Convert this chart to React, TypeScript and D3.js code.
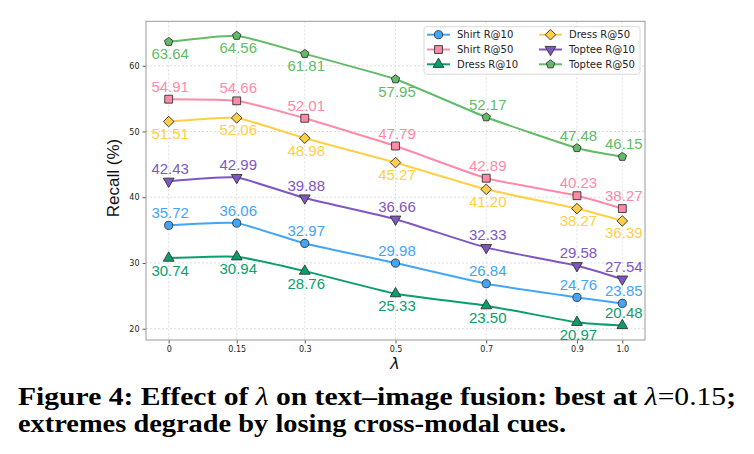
import React, { useRef, useLayoutEffect } from 'react';
import * as d3 from 'd3';

// lambda values on the x axis and their printed tick labels
const lambdas = [0, 0.15, 0.3, 0.5, 0.7, 0.9, 1.0];
const lambdaTicks = ['0', '0.15', '0.3', '0.5', '0.7', '0.9', '1.0'];
const recallTicks = [20, 30, 40, 50, 60];

// recall values per series
const shirtR10 = [35.72, 36.06, 32.97, 29.98, 26.84, 24.76, 23.85];
const shirtR50 = [54.91, 54.66, 52.01, 47.79, 42.89, 40.23, 38.27];
const dressR10 = [30.74, 30.94, 28.76, 25.33, 23.5, 20.97, 20.48];
const dressR50 = [51.51, 52.06, 48.98, 45.27, 41.2, 38.27, 36.39];
const topteeR10 = [42.43, 42.99, 39.88, 36.66, 32.33, 29.58, 27.54];
const topteeR50 = [63.64, 64.56, 61.81, 57.95, 52.17, 47.48, 46.15];

const seriesNames = ['Shirt R@10', 'Shirt R@50', 'Dress R@10', 'Dress R@50', 'Toptee R@10', 'Toptee R@50'];
const seriesValues = [shirtR10, shirtR50, dressR10, dressR50, topteeR10, topteeR50];
const seriesColors = ['#42a5f5', '#ff8aa8', '#0a9e6c', '#ffd045', '#7e57c2', '#62bb67'];
const seriesMarkers = ['circle', 'square', 'triangle', 'diamond', 'triangleDown', 'pentagon'];
// which side of the point each value label sits on (1 = above, -1 = below)
const labelSides = [
  [1, 1, 1, 1, 1, 1, 1],
  [1, 1, 1, 1, 1, 1, 1],
  [-1, -1, -1, -1, -1, -1, 1],
  [-1, -1, -1, -1, -1, -1, -1],
  [1, 1, 1, 1, 1, 1, 1],
  [-1, -1, -1, -1, 1, 1, 1],
];

const markerPath = (kind: string) => {
  if (kind === 'circle') return d3.symbol(d3.symbolCircle, 52)();
  if (kind === 'square') return d3.symbol(d3.symbolSquare, 62)();
  if (kind === 'triangle') return d3.symbol(d3.symbolTriangle, 50)();
  if (kind === 'triangleDown') return d3.symbol(d3.symbolTriangle, 50)();
  if (kind === 'diamond') return d3.symbol(d3.symbolSquare, 56)();
  // pentagon
  const r = 4.4;
  const pts = d3.range(5).map((k) => {
    const a = -Math.PI / 2 + (k * 2 * Math.PI) / 5;
    return [r * Math.cos(a), r * Math.sin(a)];
  });
  return 'M' + pts.map((p) => p.join(',')).join('L') + 'Z';
};

const markerRotate = (kind: string) =>
  kind === 'diamond' ? 45 : kind === 'triangleDown' ? 180 : 0;

const App = () => {
  const ref = useRef(null);
  const width = 754;
  const height = 454;

  useLayoutEffect(() => {
    const svg = d3.select(ref.current);
    svg.selectAll('*').remove();

    const plot = { left: 146, right: 645, top: 21.3, bottom: 340 };
    const x = d3.scaleLinear().domain([-0.05, 1.05]).range([plot.left, plot.right]);
    const y = d3.scaleLinear().domain([18.28, 66.76]).range([plot.bottom, plot.top]);

    svg.append('rect').attr('width', width).attr('height', height).attr('fill', '#fff');

    // grid
    const grid = svg.append('g').attr('stroke', '#d6d6d6').attr('stroke-width', 0.8).attr('stroke-dasharray', '2,2');
    lambdas.forEach((v) => {
      grid.append('line').attr('x1', x(v)).attr('x2', x(v)).attr('y1', plot.top).attr('y2', plot.bottom);
    });
    recallTicks.forEach((v) => {
      grid.append('line').attr('x1', plot.left).attr('x2', plot.right).attr('y1', y(v)).attr('y2', y(v));
    });

    // axes
    const axisBottom = d3
      .axisBottom(x)
      .tickValues(lambdas)
      .tickFormat((_, i) => lambdaTicks[i])
      .tickSize(3.5)
      .tickPadding(3);
    const axisLeft = d3.axisLeft(y).tickValues(recallTicks).tickSize(3.5).tickPadding(3);

    const gx = svg.append('g').attr('transform', `translate(0, ${plot.bottom})`).call(axisBottom);
    const gy = svg.append('g').attr('transform', `translate(${plot.left}, 0)`).call(axisLeft);
    [gx, gy].forEach((g) => {
      g.select('.domain').remove();
      g.selectAll('line').attr('stroke', '#333').attr('stroke-width', 0.8);
      g.selectAll('text').attr('fill', '#222').style('font', '8px "DejaVu Sans"');
    });

    svg
      .append('rect')
      .attr('x', plot.left)
      .attr('y', plot.top)
      .attr('width', plot.right - plot.left)
      .attr('height', plot.bottom - plot.top)
      .attr('fill', 'none')
      .attr('stroke', '#9a9a9a')
      .attr('stroke-width', 1);

    // lines, markers and value labels (lightly smoothed)
    const line = d3
      .line<number>()
      .x((_, i) => x(lambdas[i]))
      .y((d) => y(d))
      .curve(d3.curveCardinal.tension(0.55));

    seriesValues.forEach((vals, s) => {
      const g = svg.append('g');
      g.append('path')
        .attr('d', line(vals))
        .attr('fill', 'none')
        .attr('stroke', seriesColors[s])
        .attr('stroke-width', 2);
      vals.forEach((v, i) => {
        g.append('path')
          .attr('d', markerPath(seriesMarkers[s]))
          .attr('transform', `translate(${x(lambdas[i])}, ${y(v)}) rotate(${markerRotate(seriesMarkers[s])})`)
          .attr('fill', seriesColors[s])
          .attr('stroke', '#333')
          .attr('stroke-width', 0.9);
        const side = labelSides[s][i];
        g.append('text')
          .text(v.toFixed(2))
          .attr('x', x(lambdas[i]) + 1.5)
          .attr('y', y(v) + (side > 0 ? -7.5 : 17.5))
          .attr('text-anchor', 'middle')
          .attr('fill', seriesColors[s])
          .style('font', '15px "Liberation Sans", Arial, sans-serif');
      });
    });

    // axis titles
    svg
      .append('text')
      .text('Recall (%)')
      .attr('transform', `translate(119, 178) rotate(-90)`)
      .attr('text-anchor', 'middle')
      .attr('fill', '#111')
      .style('font', '17px "Liberation Sans", Arial, sans-serif');
    svg
      .append('text')
      .text('λ')
      .attr('x', 395)
      .attr('y', 369)
      .attr('text-anchor', 'middle')
      .attr('fill', '#111')
      .style('font', 'italic 16px "DejaVu Sans"');

    // legend
    const legend = svg.append('g');
    legend
      .append('rect')
      .attr('x', 424)
      .attr('y', 26.7)
      .attr('width', 216)
      .attr('height', 47.5)
      .attr('rx', 2.5)
      .attr('fill', 'rgba(255,255,255,0.85)')
      .attr('stroke', '#d0d0d0')
      .attr('stroke-width', 0.8);
    const colX = [427, 539];
    const rowY = [34.7, 49.5, 64.3];
    seriesNames.forEach((name, s) => {
      const cx = colX[Math.floor(s / 3)];
      const cy = rowY[s % 3];
      legend
        .append('line')
        .attr('x1', cx)
        .attr('x2', cx + 23)
        .attr('y1', cy)
        .attr('y2', cy)
        .attr('stroke', seriesColors[s])
        .attr('stroke-width', 2);
      legend
        .append('path')
        .attr('d', markerPath(seriesMarkers[s]))
        .attr('transform', `translate(${cx + 11.5}, ${cy}) rotate(${markerRotate(seriesMarkers[s])})`)
        .attr('fill', seriesColors[s])
        .attr('stroke', '#333')
        .attr('stroke-width', 0.9);
      legend
        .append('text')
        .text(name)
        .attr('x', cx + 30)
        .attr('y', cy + 3.6)
        .attr('fill', '#222')
        .style('font', '10px "DejaVu Sans"');
    });

    // caption
    const capFont = '"Liberation Serif", serif';
    const cap1 = svg
      .append('text')
      .attr('x', 18)
      .attr('y', 405)
      .attr('textLength', 718)
      .attr('lengthAdjust', 'spacingAndGlyphs')
      .style('font-family', capFont)
      .style('font-size', '25px')
      .attr('fill', '#000');
    cap1.append('tspan').attr('font-weight', 'bold').text('Figure 4: Effect of ');
    cap1.append('tspan').attr('font-style', 'italic').text('λ');
    cap1.append('tspan').attr('font-weight', 'bold').text(' on text–image fusion: best at ');
    cap1.append('tspan').attr('font-style', 'italic').text('λ');
    cap1.append('tspan').text('=0.15');
    cap1.append('tspan').attr('font-weight', 'bold').text(';');

    svg
      .append('text')
      .attr('x', 18)
      .attr('y', 432)
      .attr('textLength', 548)
      .attr('lengthAdjust', 'spacingAndGlyphs')
      .style('font-family', capFont)
      .style('font-size', '25px')
      .attr('font-weight', 'bold')
      .attr('fill', '#000')
      .text('extremes degrade by losing cross-modal cues.');
  }, []);

  return (
    <div style={{ position: 'absolute', left: 0, top: 0, width, height }}>
      <svg ref={ref} width={width} height={height} />
    </div>
  );
};

export default App;
